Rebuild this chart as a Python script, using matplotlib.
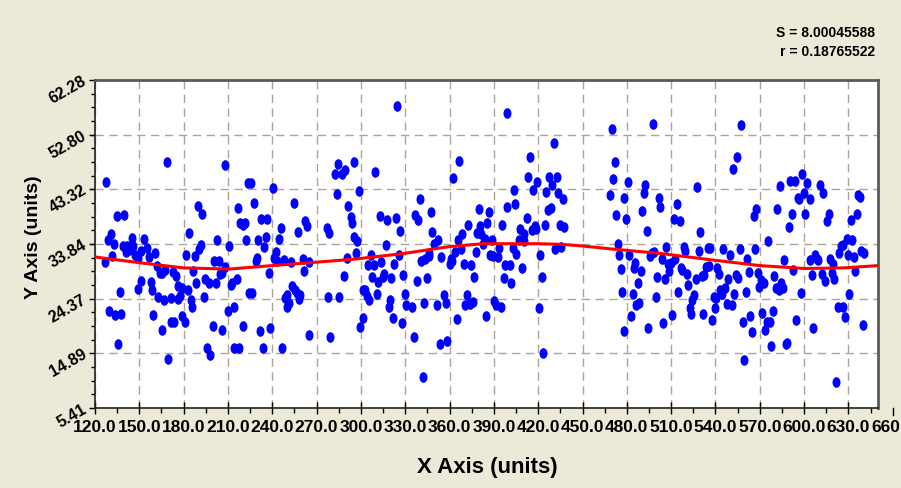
"""Scatter of Y vs X with the fitted sine curve, XP-style plot window."""

import matplotlib

matplotlib.use("Agg")
import matplotlib.pyplot as plt  # noqa: E402
from matplotlib.path import Path  # noqa: E402
from matplotlib.transforms import Affine2D  # noqa: E402
from matplotlib.ticker import MultipleLocator, AutoMinorLocator  # noqa: E402

plt.rcParams["font.family"] = ["Liberation Sans", "DejaVu Sans"]
plt.rcParams["font.weight"] = "bold"

x_left = [127.2, 129.0, 130.6, 132.9, 131.5, 126.8, 134.9, 139.4, 138.9, 141.0,
          141.9, 143.2, 144.8, 146.0, 147.1, 149.3, 150.9, 153.2, 155.0, 156.8,
          160.8, 161.7, 164.0, 165.1, 167.4, 151.4, 148.9, 157.7, 158.8, 162.9,
          166.7, 136.7, 129.5, 133.3, 137.4, 135.6, 159.5, 165.6, 169.0, 171.2,
          173.5, 169.6, 171.7, 173.0, 174.8, 176.4, 178.7, 176.0, 177.5, 179.1,
          180.9, 182.7, 181.6, 183.6, 185.0, 185.7, 186.3, 187.7, 188.4, 189.7,
          192.4, 190.2, 191.8, 193.8, 194.5, 195.6, 197.4, 197.9, 199.7, 200.3,
          201.7, 202.4, 204.0, 204.6, 206.2, 207.8, 208.2, 205.8, 209.8, 210.5,
          212.1, 212.5, 213.9, 214.3, 215.9, 216.6, 218.4, 220.0, 221.6, 222.2,
          220.4, 217.7, 223.8, 225.6, 224.5, 226.3, 227.9, 228.8, 229.5, 230.6,
          232.6, 234.4, 235.8, 236.5, 231.7, 233.7, 237.8, 238.7, 240.3, 241.2,
          242.5, 243.0, 244.3, 245.7, 246.4, 248.0, 248.6, 250.2, 249.8, 251.6,
          252.7, 253.1, 254.5, 255.4, 257.0, 257.4, 258.3, 259.0, 260.6, 261.3,
          262.4, 263.3, 264.7, 265.1, 276.8, 277.5, 278.4, 279.1, 282.7, 283.6,
          284.7, 285.4, 287.0, 289.3, 288.6, 290.8, 291.3]
y_left = [44.6, 34.5, 35.5, 33.9, 31.7, 30.7, 38.7, 38.9, 33.5, 32.4,
          33.5, 32.8, 34.9, 33.5, 32.0, 31.4, 32.6, 34.7, 33.2, 31.6,
          32.3, 30.0, 28.9, 28.8, 29.4, 27.5, 26.1, 27.3, 25.8, 24.7,
          24.1, 25.6, 22.2, 21.5, 21.7, 16.5, 21.5, 19.0, 48.0, 20.3,
          20.3, 13.9, 24.4, 29.0, 28.3, 26.5, 26.2, 24.3, 24.8, 21.3,
          20.3, 25.8, 31.9, 35.7, 24.2, 23.0, 29.2, 31.7, 27.0, 40.5,
          39.1, 32.9, 33.6, 24.7, 27.8, 15.8, 27.1, 14.6, 19.7, 30.9,
          27.0, 34.5, 30.9, 28.7, 19.0, 47.6, 29.9, 28.9, 22.2, 33.5,
          26.7, 27.1, 15.8, 23.0, 27.7, 40.1, 37.4, 37.1, 37.5, 34.5,
          19.7, 15.8, 44.4, 44.4, 25.4, 25.4, 41.0, 30.9, 31.4, 34.6,
          38.2, 33.4, 35.0, 38.2, 18.7, 15.8, 28.8, 19.3, 43.5, 31.4,
          32.5, 30.9, 34.7, 36.7, 15.8, 31.0, 24.4, 25.0, 22.9, 23.6,
          30.7, 26.5, 41.0, 25.8, 25.4, 35.9, 24.3, 25.0, 31.2, 29.2,
          37.8, 36.9, 18.0, 30.8, 36.7, 24.7, 35.7, 17.8, 46.0, 42.6,
          47.8, 24.7, 45.9, 46.6, 28.3, 31.4, 40.5]

x_mid = [293.2, 293.8, 295.0, 295.4, 297.2, 298.8, 296.8, 299.5, 301.7, 301.1,
         302.9, 304.0, 305.6, 305.1, 306.9, 307.6, 309.0, 309.6, 310.8, 311.7,
         313.0, 313.7, 314.8, 315.7, 317.1, 317.8,
         318.7, 319.8, 320.5, 321.6, 322.3, 323.8, 324.3, 325.7, 326.3, 327.7,
         328.4, 329.7, 330.4, 334.5, 335.6, 336.5, 337.8, 338.5, 339.9, 340.5,
         341.9, 342.6, 343.7, 344.4, 346.0, 346.2,
         347.5, 348.4, 349.8, 351.8, 352.5, 353.6, 354.5, 355.9, 357.9, 358.6,
         360.0, 360.9, 361.8, 362.4, 364.0, 364.7, 365.6, 366.5, 367.9, 368.5,
         369.9, 370.6, 371.7, 372.6, 374.0, 374.6,
         375.8, 376.7, 378.0, 378.5, 379.8, 380.7, 381.4, 382.5, 383.7, 384.6,
         385.2, 386.6, 387.3, 388.6, 389.7, 390.4, 391.3, 392.5, 393.4, 394.5,
         395.4, 396.7, 397.4, 398.8, 399.2, 400.6,
         401.3, 402.6, 403.3, 404.6, 405.3, 406.7, 407.6, 408.7, 410.1, 410.7,
         412.5, 413.2, 414.6, 415.5, 416.6, 417.5, 418.6, 419.3, 420.7, 421.3,
         422.7, 423.4, 424.7, 425.6, 426.8, 427.4,
         428.8, 429.5, 430.8, 431.5, 432.6, 433.5, 434.9, 435.6, 436.7, 437.4,
         468.3]
y_mid = [38.6, 37.5, 48.1, 35.0, 34.3, 43.0, 32.2, 19.4, 21.0, 25.8,
         25.9, 24.8, 24.1, 30.2, 31.9, 28.1, 30.2, 46.4, 25.2, 27.3,
         38.7, 30.7, 28.1, 28.7, 33.6, 38.0,
         23.0, 24.1, 27.9, 21.0, 30.4, 38.4, 57.7, 32.0, 36.1, 20.1,
         28.4, 25.2, 23.3, 23.0, 17.8, 38.9, 27.4, 38.0, 41.7, 30.9,
         10.7, 23.6, 31.3, 27.9, 31.7, 32.3,
         39.4, 35.9, 33.8, 23.3, 34.5, 16.5, 31.6, 25.0, 23.6, 17.1,
         30.4, 31.2, 30.9, 45.3, 32.5, 20.8, 34.5, 48.3, 32.9, 35.6,
         30.4, 23.2, 25.0, 37.1, 23.4, 30.2,
         23.8, 28.1, 32.5, 35.7, 39.9, 36.9, 35.5, 33.9, 34.7, 21.3,
         37.5, 39.4, 32.0, 34.5, 31.7, 23.9, 23.3, 31.6, 33.2, 23.0,
         37.1, 27.9, 30.2, 40.3, 56.5, 30.2,
         27.0, 33.1, 43.2, 40.7, 32.1, 34.6, 36.4, 29.7, 34.3, 35.5,
         38.4, 45.5, 49.0, 36.2, 43.2, 36.9, 36.4, 44.6, 22.7, 32.0,
         28.1, 14.9, 37.1, 42.8, 39.8, 45.5,
         40.1, 44.1, 51.3, 32.9, 45.4, 42.7, 37.1, 33.3, 41.7, 36.8,
         42.3]

x_right = [469.9, 471.7, 470.6, 472.4, 473.8, 474.4, 475.8, 476.5, 477.8, 478.3,
           479.6, 480.5, 481.7, 482.6, 483.9, 484.6, 485.7, 486.4, 487.8, 488.4,
           489.8, 490.5, 491.6, 492.3, 493.9, 494.5, 495.9, 497.2, 497.9, 498.6,
           500.0, 500.6, 502.0, 502.7, 504.0, 504.5, 505.8, 506.7, 507.6, 508.7,
           509.9, 510.6, 511.9, 512.8, 513.9, 514.6, 516.0, 516.6, 517.3, 518.5,
           519.4, 520.7, 521.4, 522.5, 523.4, 524.3, 525.2, 526.6, 527.5, 528.6,
           529.3, 530.6, 531.5, 532.5, 533.4, 534.7, 535.8, 536.5, 537.6, 538.8,
           539.4, 540.6, 541.0, 542.4, 543.3, 544.6, 545.3, 546.7, 547.6, 548.7,
           549.6, 551.0, 551.6, 552.8, 553.7, 554.8, 555.5, 556.8, 557.5, 558.9,
           559.5, 560.9, 561.6, 562.9, 563.6, 565.0, 565.9, 567.0, 567.4, 569.0,
           569.7, 570.8, 571.5, 572.8, 573.5, 574.9, 575.8, 576.7, 577.8, 578.9,
           579.6, 581.0, 581.7, 582.8, 583.7, 584.4, 585.5, 586.4, 587.7, 588.4,
           589.8, 590.5, 591.8, 592.5, 593.6, 594.5, 595.9, 596.8, 597.7, 598.4,
           599.7, 600.4, 602.0, 603.8, 604.2, 605.6, 606.3, 607.4, 608.7, 609.6,
           610.5, 611.9, 612.6, 614.2, 615.7, 616.6, 617.8, 618.7, 619.6, 620.5,
           621.8, 622.7, 623.9, 625.0, 626.1, 626.6, 627.9, 628.8, 629.7, 630.4,
           631.8, 632.7, 633.8, 634.7, 635.8, 636.3, 637.6, 638.5, 639.9, 640.3]
y_right = [53.8, 48.1, 45.1, 38.9, 33.8, 32.0, 29.5, 25.6, 18.7, 41.9,
           38.2, 44.6, 31.9, 21.3, 25.1, 29.7, 30.5, 23.3, 27.1, 23.6,
           29.1, 39.6, 42.7, 44.0, 36.1, 19.2, 31.7, 32.3, 54.7, 32.4,
           24.6, 28.1, 41.9, 40.3, 31.3, 20.1, 27.7, 33.3, 30.4, 29.1,
           30.6, 21.5, 38.2, 31.2, 40.8, 25.6, 37.8, 29.6, 29.3, 33.3,
           32.7, 28.6, 26.8, 22.7, 21.7, 24.2, 25.0, 27.7, 43.7, 32.7,
           35.9, 28.3, 21.7, 28.5, 29.9, 33.1, 30.0, 33.1, 20.7, 24.7,
           22.8, 24.5, 29.6, 28.7, 25.8, 25.1, 32.9, 26.3, 23.5, 27.7,
           32.0, 23.3, 46.9, 25.1, 28.4, 48.9, 27.9, 32.9, 54.5, 20.3,
           13.8, 25.6, 31.3, 29.0, 21.3, 18.6, 38.7, 32.9, 39.9, 28.8,
           26.4, 27.6, 21.9, 27.1, 19.0, 20.4, 34.3, 20.4, 16.2, 22.2,
           28.3, 26.2, 40.0, 25.9, 43.9, 27.1, 26.2, 31.1, 16.5, 16.7,
           36.8, 44.8, 39.1, 29.4, 44.8, 20.6, 41.9, 41.6, 25.4, 46.0,
           42.7, 39.1, 44.4, 41.6, 31.0, 28.4, 19.2, 32.0, 31.3, 31.0,
           44.1, 28.7, 42.7, 27.4, 37.8, 39.1, 31.2, 28.8, 30.4, 27.7,
           10.0, 22.9, 32.3, 33.5, 33.6, 22.9, 21.2, 34.7, 31.9, 25.1,
           38.0, 34.6, 31.6, 29.1, 39.1, 42.4, 42.0, 32.7, 19.8, 32.3]

# fitted curve, sampled along x
fit_x = [120, 150, 180, 211, 240, 270, 295, 329, 360, 383, 419, 435, 450, 469,
         503, 537, 570, 600, 627, 650]
fit_y = [31.6, 30.6, 29.7, 29.5, 30.1, 30.7, 31.2, 32.2, 33.4, 33.9, 33.9, 33.8,
         33.5, 33.0, 32.2, 31.1, 30.1, 29.6, 29.7, 30.1]

y_ticks = [5.41, 14.89, 24.37, 33.84, 43.32, 52.80, 62.28]
y_tick_labels = ["5.41", "14.89", "24.37", "33.84", "43.32", "52.80", "62.28"]
x_ticks = list(range(120, 631, 30))
x_last_tick = 660  # drawn past the right edge, as in the original
stats = ["S = 8.00045588", "r = 0.18765522"]

xs = x_left + x_mid + x_right
ys = y_left + y_mid + y_right

bg = "#ece9d8"
fig = plt.figure(figsize=(9.01, 4.88), dpi=100, facecolor=bg)
ax = fig.add_axes([95 / 901, 80 / 488, 783 / 901, 328 / 488])
ax.set_facecolor("white")

dot = Path.unit_circle().transformed(Affine2D().scale(0.72, 1.0))
ax.plot(xs, ys, ls="none", marker=dot, ms=6.6, color="#0000ff", mec="#0000ff", zorder=3)
ax.plot(fit_x, fit_y, color="#ff0000", lw=2.2, zorder=4)

ax.set_xlim(120, 650)
ax.set_ylim(5.41, 62.28)
ax.set_xticks(x_ticks)
ax.set_xticklabels([f"{v:.1f}" for v in x_ticks])
ax.xaxis.set_minor_locator(MultipleLocator(15))
ax.set_yticks(y_ticks)
ax.set_yticklabels(y_tick_labels)
ax.yaxis.set_minor_locator(AutoMinorLocator(4))

ax.grid(True, which="major", color="#aaa596", ls=(0, (6, 4)), lw=1)
ax.set_axisbelow(True)

ax.tick_params(axis="x", which="major", direction="inout", length=9, width=1,
               labelsize=12.5, pad=4)
ax.tick_params(axis="x", which="minor", direction="out", length=3.5, width=1)
ax.tick_params(axis="y", which="major", direction="out", length=4, width=1,
               labelsize=11.5, pad=3, labelrotation=30)
ax.tick_params(axis="y", which="minor", direction="out", length=3, width=1)
for lab in ax.get_yticklabels():
    lab.set_rotation_mode("anchor")
    lab.set_ha("right")
    lab.set_va("center")

for side in ("left", "bottom"):
    ax.spines[side].set_color("#222222")
    ax.spines[side].set_linewidth(1.2)
for side in ("top", "right"):
    ax.spines[side].set_color("#5a5a5a")
    ax.spines[side].set_linewidth(2)

# last tick sits outside the plot area
xt = ax.get_xaxis_transform()
ax.plot([x_last_tick, x_last_tick], [0, -0.021], transform=xt, color="black",
        lw=1, clip_on=False)
ax.text(x_last_tick, -0.036, f"{x_last_tick:.1f}", transform=xt, ha="center",
        va="top", fontsize=12.5, fontweight="bold", clip_on=False)

fig.text(487 / 901, 1 - 468 / 488, "X Axis (units)", ha="center", va="center",
         fontsize=16, fontweight="bold")
fig.text(33 / 901, 1 - 237 / 488, "Y Axis (units)", ha="center", va="center",
         rotation=90, fontsize=14, fontweight="bold")
fig.text(875 / 901, 1 - 33 / 488, stats[0], ha="right", va="center",
         fontsize=10, fontweight="bold")
fig.text(875 / 901, 1 - 52 / 488, stats[1], ha="right", va="center",
         fontsize=10, fontweight="bold")

fig.savefig("out.png", dpi=100, facecolor=bg)
